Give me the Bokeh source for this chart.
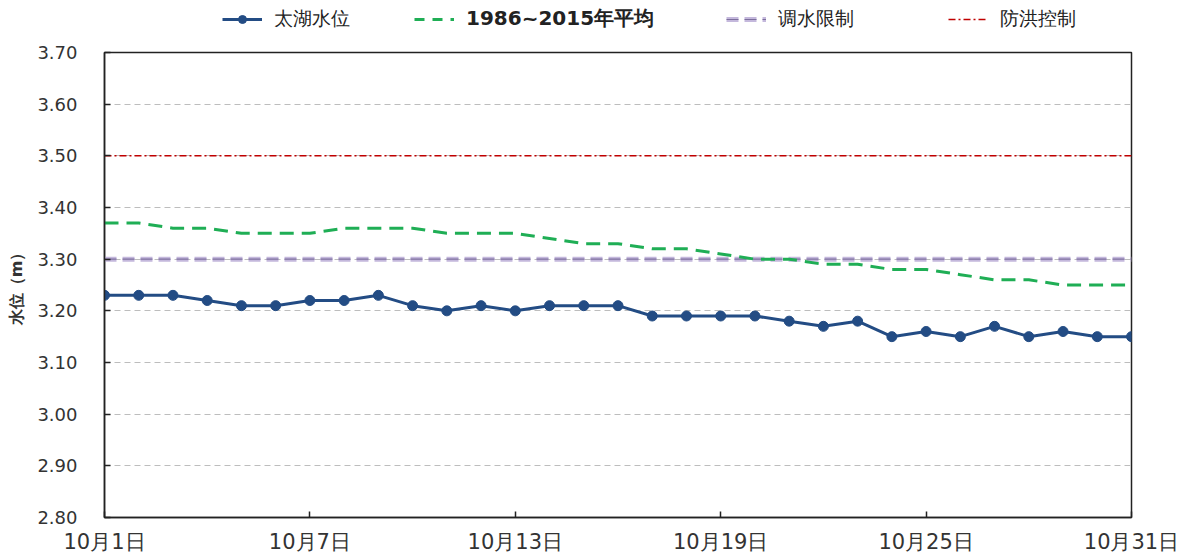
from bokeh.plotting import figure
from bokeh.layouts import column
from bokeh.models import FixedTicker, Range1d, Legend, LegendItem, NumeralTickFormatter
from bokeh.embed import file_html
from bokeh.resources import INLINE

days = list(range(1, 32))
taihu = [3.23, 3.23, 3.23, 3.22, 3.21, 3.21, 3.22, 3.22, 3.23, 3.21,
         3.20, 3.21, 3.20, 3.21, 3.21, 3.21, 3.19, 3.19, 3.19, 3.19,
         3.18, 3.17, 3.18, 3.15, 3.16, 3.15, 3.17, 3.15, 3.16, 3.15, 3.15]
avg_1986_2015 = [3.37, 3.37, 3.36, 3.36, 3.35, 3.35, 3.35, 3.36, 3.36, 3.36,
                 3.35, 3.35, 3.35, 3.34, 3.33, 3.33, 3.32, 3.32, 3.31, 3.30,
                 3.30, 3.29, 3.29, 3.28, 3.28, 3.27, 3.26, 3.26, 3.25, 3.25, 3.25]
diversion_limit = [3.30] * 31
flood_control = [3.50] * 31
x_ticks = [1, 7, 13, 19, 25, 31]
x_tick_labels = ["10月1日", "10月7日", "10月13日", "10月19日", "10月25日", "10月31日"]
y_ticks = [2.8, 2.9, 3.0, 3.1, 3.2, 3.3, 3.4, 3.5, 3.6, 3.7]
series_labels = ["太湖水位", "1986~2015年平均", "调水限制", "防洪控制"]

FONT = "DejaVu Sans"
BLUE = "#234c84"
GREEN = "#1fae55"
PUR_L = "#c4b8dc"
PUR_D = "#7d6f9e"
RED = "#c00000"

W = 1185
LEG_H = 42

p = figure(width=W, height=516, output_backend="svg", toolbar_location=None,
           x_range=Range1d(1, 31), y_range=Range1d(2.8, 3.7),
           min_border_left=104, min_border_right=54, min_border_top=10, min_border_bottom=41)

p.outline_line_color = "#222222"
p.outline_line_width = 1.5

p.xgrid.grid_line_color = None
p.ygrid.grid_line_color = "#bdbdbd"
p.ygrid.grid_line_dash = "6 4"
p.ygrid.grid_line_width = 1

p.yaxis.ticker = FixedTicker(ticks=y_ticks)
p.yaxis.formatter = NumeralTickFormatter(format="0.00")
p.xaxis.ticker = FixedTicker(ticks=x_ticks)
p.xaxis.major_label_overrides = {t: l for t, l in zip(x_ticks, x_tick_labels)}
for ax in (p.xaxis[0], p.yaxis[0]):
    ax.axis_line_color = "#222222"
    ax.axis_line_width = 1.5
    ax.major_tick_in = 6
    ax.major_tick_out = 0
    ax.major_tick_line_color = "#222222"
    ax.major_tick_line_width = 1.5
    ax.minor_tick_line_color = None
    ax.major_label_text_font = FONT
    ax.major_label_text_color = "#333333"
p.yaxis.major_label_text_font_size = "18px"
p.yaxis.major_label_standoff = 27
p.xaxis.major_label_text_font_size = "21px"
p.xaxis.major_label_standoff = 12
p.yaxis.axis_label = "水位（m）"
p.yaxis.axis_label_text_font = FONT
p.yaxis.axis_label_text_font_size = "16px"
p.yaxis.axis_label_text_font_style = "bold"
p.yaxis.axis_label_text_color = "#333333"
p.yaxis.axis_label_standoff = 8

p.line(days, flood_control, line_color=RED, line_width=1.5, line_dash="7 3 2 3")
p.line(days, diversion_limit, line_color=PUR_L, line_width=5, line_dash="12 6")
p.line(days, diversion_limit, line_color=PUR_D, line_width=1.2, line_dash="12 6")
p.line(days, avg_1986_2015, line_color=GREEN, line_width=3, line_dash="14 8")
p.line(days, taihu, line_color=BLUE, line_width=3)
p.scatter(days, taihu, size=10, fill_color=BLUE, line_color=BLUE)

# legend strip above the plot (its frame is aligned with the main plot's frame)
lf = figure(width=W, height=LEG_H, output_backend="svg", toolbar_location=None,
            x_range=Range1d(0, 10), y_range=Range1d(0, 10),
            min_border_left=104, min_border_right=54, min_border_top=0, min_border_bottom=0)
lf.axis.visible = False
lf.grid.visible = False
lf.outline_line_color = None

off = dict(x=[-100, -99], y=[-100, -100])
l_blue = lf.line(line_color=BLUE, line_width=3, **off)
l_blue_pt = lf.scatter(size=10, fill_color=BLUE, line_color=BLUE, **off)
l_green = lf.line(line_color=GREEN, line_width=3, line_dash="10 8", **off)
l_pur1 = lf.line(line_color=PUR_L, line_width=5, line_dash="12 6", **off)
l_pur2 = lf.line(line_color=PUR_D, line_width=1.2, line_dash="12 6", **off)
l_red = lf.line(line_color=RED, line_width=1.5, line_dash="7 3 2 3", **off)

entries = [
    (series_labels[0], [l_blue, l_blue_pt], 118, "normal", "19px"),
    (series_labels[1], [l_green], 310, "bold", "20px"),
    (series_labels[2], [l_pur1, l_pur2], 622, "normal", "19px"),
    (series_labels[3], [l_red], 844, "normal", "19px"),
]
for label, rends, xloc, style, fsize in entries:
    lg = Legend(items=[LegendItem(label=label, renderers=rends)], location=(xloc, 10))
    lg.label_text_font = FONT
    lg.label_text_font_size = fsize
    lg.label_text_font_style = style
    lg.label_text_color = "#222222"
    lg.border_line_color = None
    lg.background_fill_alpha = 0
    lg.glyph_width = 40
    lg.label_standoff = 12
    lg.padding = 0
    lg.margin = 0
    lf.add_layout(lg)

layout = column(lf, p, spacing=0)
open("out.html", "w").write(file_html(layout, INLINE))
